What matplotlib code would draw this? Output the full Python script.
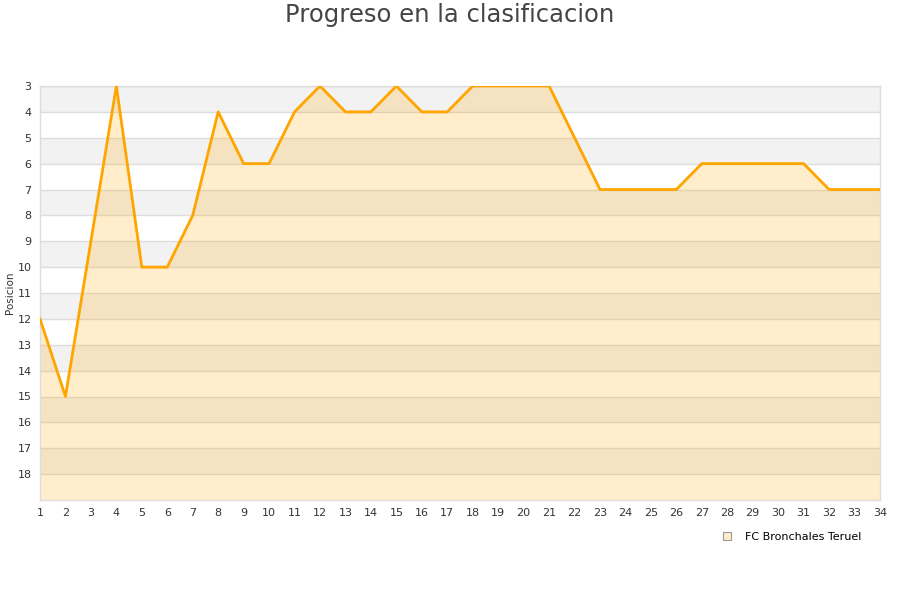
"""Progreso en la clasificacion - FC Bronchales Teruel."""
import matplotlib
matplotlib.use("Agg")
import matplotlib.pyplot as plt
from matplotlib.lines import Line2D

jornadas = list(range(1, 35))
posiciones = [12, 15, 9, 3, 10, 10, 8, 4, 6, 6, 4, 3, 4, 4, 3, 4, 4, 3, 3, 3,
              3, 5, 7, 7, 7, 7, 6, 6, 6, 6, 6, 7, 7, 7]
equipo = "FC Bronchales Teruel"
y_ticks = list(range(3, 19))

fig = plt.figure(figsize=(9, 6), dpi=100)
ax = fig.add_axes([40 / 900, 100 / 600, 840 / 900, 414 / 600])

# alternating background bands
for y in range(3, 19):
    color = "#f2f2f2" if y % 2 == 1 else "white"
    ax.axhspan(y, y + 1, color=color, zorder=0, lw=0)
for y in range(3, 19):
    ax.axhline(y, color="#dddddd", lw=1, zorder=1)

ax.fill_between(jornadas, posiciones, 19, color="#ffa500", alpha=0.2, lw=0, zorder=2)
ax.plot(jornadas, posiciones, color="#ffa500", lw=2, zorder=3)

ax.set_xlim(1, 34)
ax.set_ylim(19, 3)
ax.set_xticks(jornadas)
ax.set_yticks(y_ticks)
ax.tick_params(length=0, labelsize=8, colors="#333333", pad=6)
ax.tick_params(axis="y", pad=6)
for s in ax.spines.values():
    s.set_color("#dddddd")
    s.set_linewidth(1)

fig.text(10 / 900, 1 - 293 / 600, "Posicion", rotation=90, ha="center", va="center",
         fontsize=7.5, color="#333333")
fig.text(0.5, 1 - 15 / 600, "Progreso en la clasificacion", ha="center", va="center",
         fontsize=17.5, color="#444444")

handle = Line2D([], [], marker="s", ls="none", markersize=6,
                markerfacecolor="#ffedcc", markeredgecolor="#999999", markeredgewidth=0.8)
fig.legend([handle], [equipo], loc="center right", bbox_to_anchor=(0.968, 0.105),
           frameon=False, fontsize=8, handletextpad=0.6)

fig.savefig("out.png", dpi=100)
